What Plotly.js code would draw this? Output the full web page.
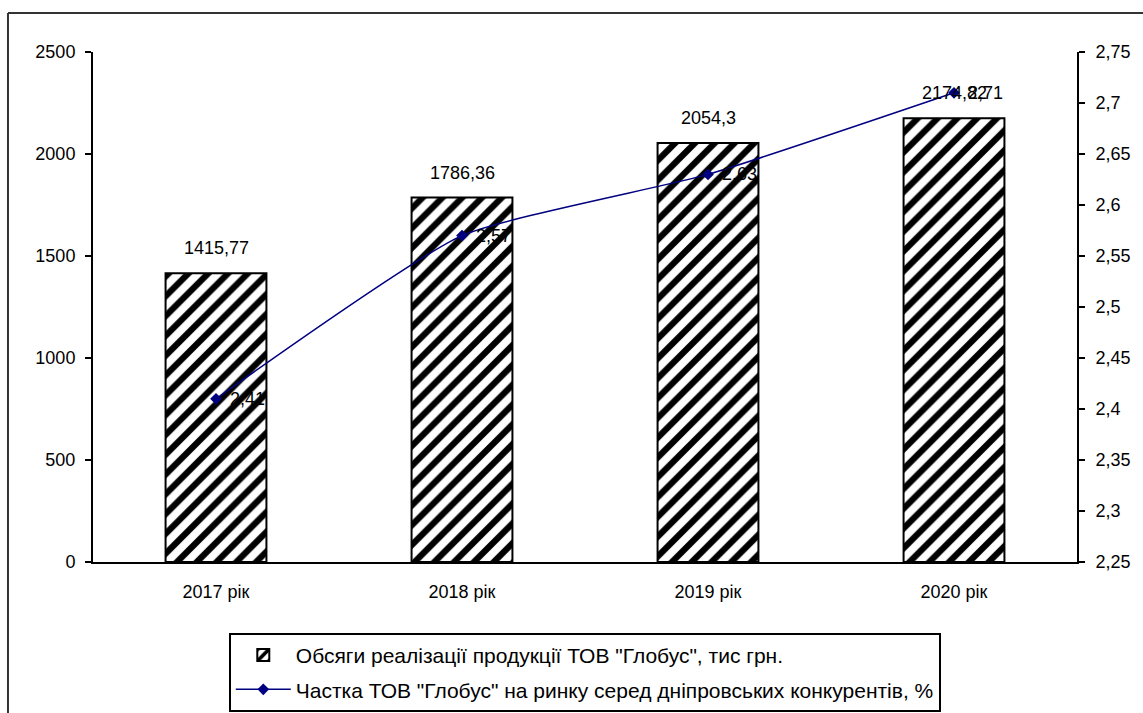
<!DOCTYPE html>
<html>
<head>
<meta charset="utf-8">
<script src="https://cdn.plot.ly/plotly-3.0.1.min.js"></script>
<style>
  html, body { margin: 0; padding: 0; background: #fff; }
  #chart { width: 1143px; height: 713px; }
</style>
</head>
<body>
<div id="chart"></div>
<script>
// Categories (years)
const years = ['2017 рік', '2018 рік', '2019 рік', '2020 рік'];

// Sales volume, thousand UAH (left axis, bars)
const salesVolume = [1415.77, 1786.36, 2054.3, 2174.82];

// Market share among Dnipro competitors, % (right axis, line)
const marketShare = [2.41, 2.57, 2.63, 2.71];

// Legend labels
const salesName = 'Обсяги реалізації продукції ТОВ "Глобус", тис грн.';
const shareName = 'Частка ТОВ "Глобус" на ринку серед дніпровських конкурентів, %';

// Axis ticks
const leftTicks = [0, 500, 1000, 1500, 2000, 2500];
const rightTicks = [2.25, 2.3, 2.35, 2.4, 2.45, 2.5, 2.55, 2.6, 2.65, 2.7, 2.75];

const fmt = v => String(v).replace('.', ',');

const FONT = 'Liberation Sans, Arial, sans-serif';
const NAVY = '#000080';

const bars = {
  type: 'bar',
  x: years,
  y: salesVolume,
  name: salesName,
  legendgroup: 'sales',
  yaxis: 'y',
  marker: {
    color: '#ffffff',
    line: { color: '#000000', width: 2 },
    pattern: { shape: '/', fgcolor: '#000000', bgcolor: '#ffffff', size: 14, solidity: 0.45 }
  },
  hoverinfo: 'x+y'
};

const line = {
  type: 'scatter',
  mode: 'lines+markers',
  x: years,
  y: marketShare,
  name: shareName,
  legendgroup: 'share',
  yaxis: 'y2',
  line: { color: NAVY, width: 1.5, shape: 'spline', smoothing: 0.5 },
  marker: { symbol: 'diamond', size: 9, color: NAVY }
};

const labelFont = { family: FONT, size: 18, color: '#000' };

const annotations = [];
years.forEach((yr, i) => {
  annotations.push({
    x: yr, y: salesVolume[i], xref: 'x', yref: 'y',
    text: fmt(salesVolume[i]), showarrow: false,
    yanchor: 'bottom', yshift: 13,
    font: labelFont
  });
  annotations.push({
    x: yr, y: marketShare[i], xref: 'x', yref: 'y2',
    text: fmt(marketShare[i]), showarrow: false,
    xanchor: 'left', xshift: 12,
    font: labelFont
  });
});

// Chart frame (top and left edges)
const shapes = [
  { type: 'line', xref: 'paper', yref: 'paper', x0: -0.0864, x1: 1.2, y0: 1.0765, y1: 1.0765,
    line: { color: '#333', width: 2 } },
  { type: 'line', xref: 'paper', yref: 'paper', x0: -0.0864, x1: -0.0864, y0: 1.0765, y1: -0.4,
    line: { color: '#333', width: 2 } }
];

const tickFont = { family: FONT, size: 18, color: '#000' };

const layout = {
  width: 1143,
  height: 713,
  margin: { l: 93, r: 66, t: 52, b: 151, autoexpand: false },
  paper_bgcolor: '#fff',
  plot_bgcolor: '#fff',
  showlegend: true,
  bargap: 0.59,
  xaxis: {
    type: 'category',
    showline: true, linecolor: '#000', linewidth: 2,
    ticks: '', showgrid: false, zeroline: false,
    tickfont: tickFont, ticklabelstandoff: 12
  },
  yaxis: {
    range: [0, 2500], tickvals: leftTicks, ticktext: leftTicks.map(fmt),
    showline: true, linecolor: '#000', linewidth: 2,
    ticks: 'outside', ticklen: 6, tickwidth: 2, tickcolor: '#000',
    showgrid: false, zeroline: false,
    tickfont: tickFont, ticklabelstandoff: 6
  },
  yaxis2: {
    overlaying: 'y', side: 'right', anchor: 'x',
    range: [2.25, 2.75], tickvals: rightTicks, ticktext: rightTicks.map(fmt),
    showline: true, linecolor: '#000', linewidth: 2,
    ticks: 'outside', ticklen: 6, tickwidth: 2, tickcolor: '#000',
    showgrid: false, zeroline: false,
    tickfont: tickFont, ticklabelstandoff: 7
  },
  // inner halves of the cross tick marks
  yaxis3: {
    overlaying: 'y', side: 'left', anchor: 'x',
    range: [0, 2500], tickvals: leftTicks, showticklabels: false,
    showline: false, ticks: 'inside', ticklen: 6, tickwidth: 2, tickcolor: '#000',
    showgrid: false, zeroline: false
  },
  yaxis4: {
    overlaying: 'y', side: 'right', anchor: 'x',
    range: [2.25, 2.75], tickvals: rightTicks, showticklabels: false,
    showline: false, ticks: 'inside', ticklen: 6, tickwidth: 2, tickcolor: '#000',
    showgrid: false, zeroline: false
  },
  legend: {
    x: 0.138, y: -0.139, xanchor: 'left', yanchor: 'top',
    orientation: 'v',
    bordercolor: '#000', borderwidth: 2, bgcolor: '#fff',
    font: { family: FONT, size: 21, color: '#000' },
    itemwidth: 55, tracegroupgap: 4
  },
  annotations: annotations,
  shapes: shapes
};

Plotly.newPlot('chart', [bars, line], layout, { displayModeBar: false, staticPlot: true });
</script>
</body>
</html>
